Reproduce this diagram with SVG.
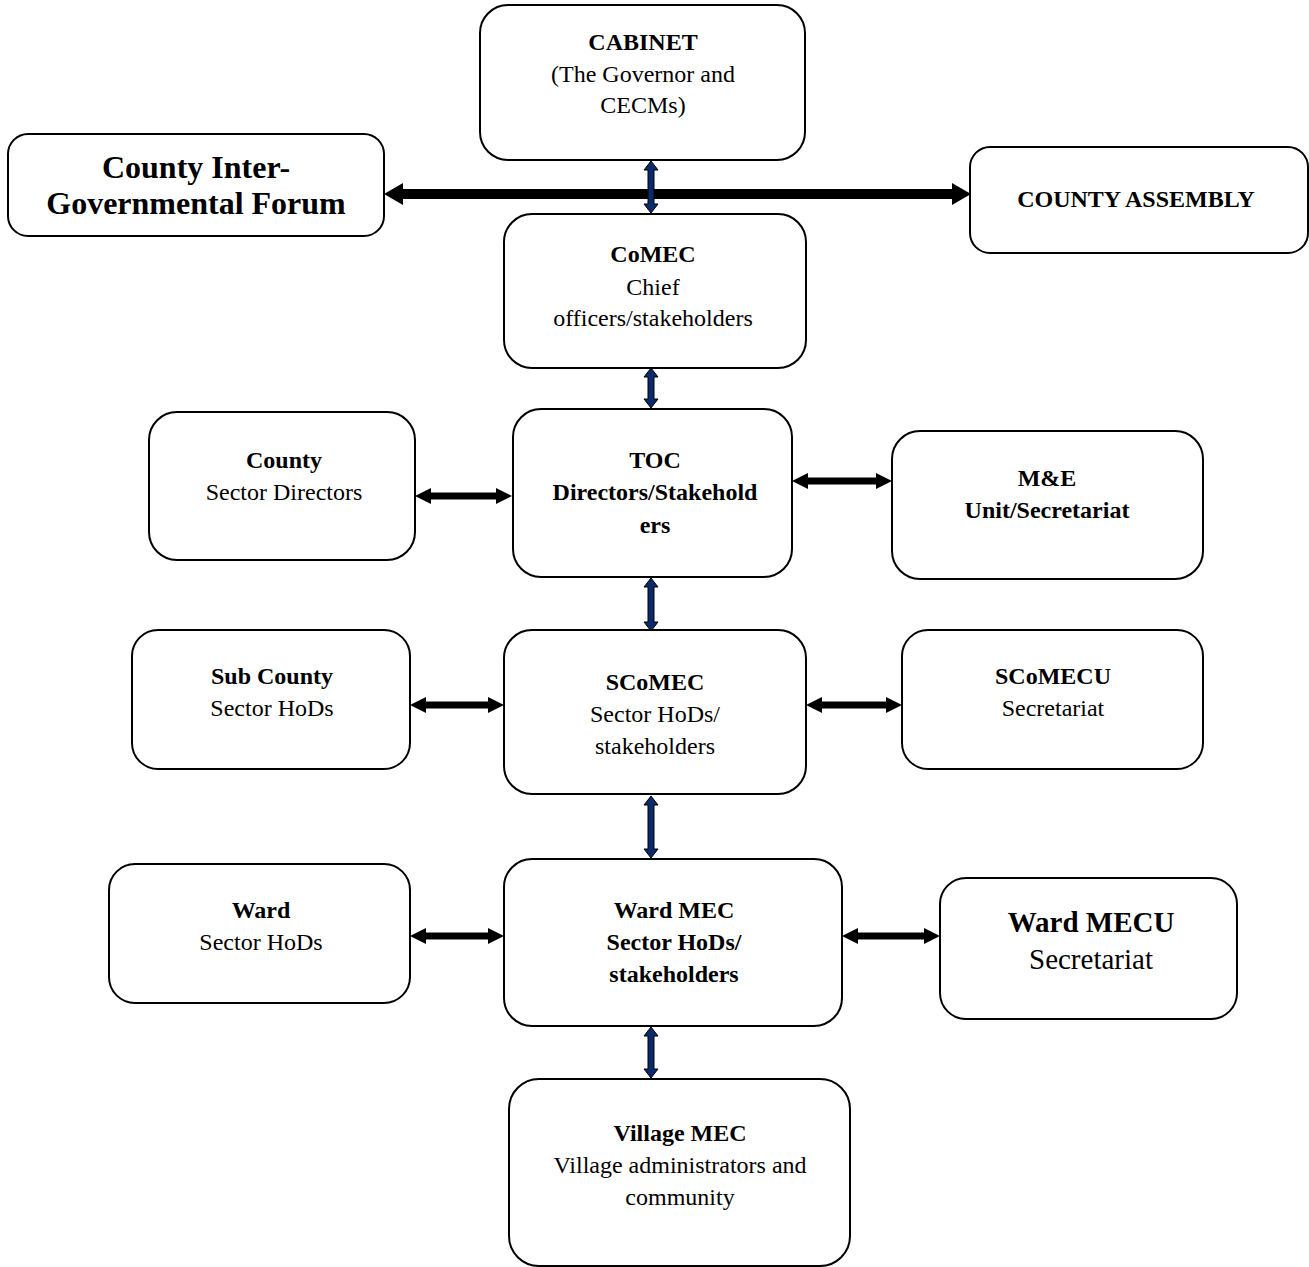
<svg xmlns="http://www.w3.org/2000/svg" width="1309" height="1267" viewBox="0 0 1309 1267">
<style>
.box{fill:#fff;stroke:#000;stroke-width:2}
text{font-family:"Liberation Serif","Times New Roman",serif;font-size:24px;text-anchor:middle;fill:#000}
.b{font-weight:bold}
.big{font-size:32px}
.mid{font-size:29px}
.h{fill:#000}
.v{fill:#0b2a6b;stroke:#000;stroke-width:1}
</style>
<rect width="1309" height="1267" fill="#fff"/>
<g id="connectors">
<polygon class="h" points="384,194 403,183 403,189 952,189 952,183 971,194 952,205 952,199 403,199 403,205"/>
<polygon class="v" points="651,161 658,170 654,170 654,204 658,204 651,213 644,204 648,204 648,170 644,170"/>
<polygon class="v" points="651,368 658,377 654,377 654,399 658,399 651,408 644,399 648,399 648,377 644,377"/>
<polygon class="v" points="651,578 658,587 654,587 654,622 658,622 651,631 644,622 648,622 648,587 644,587"/>
<polygon class="v" points="651,796 658,805 654,805 654,849 658,849 651,858 644,849 648,849 648,805 644,805"/>
<polygon class="v" points="651,1027 658,1036 654,1036 654,1069 658,1069 651,1078 644,1069 648,1069 648,1036 644,1036"/>
<polygon class="h" points="415,496 431,488 431,492.5 496,492.5 496,488 512,496 496,504 496,499.5 431,499.5 431,504"/>
<polygon class="h" points="792,481 808,473 808,477.5 876,477.5 876,473 892,481 876,489 876,484.5 808,484.5 808,489"/>
<polygon class="h" points="410,705 426,697 426,701.5 488,701.5 488,697 504,705 488,713 488,708.5 426,708.5 426,713"/>
<polygon class="h" points="806,705 822,697 822,701.5 886,701.5 886,697 902,705 886,713 886,708.5 822,708.5 822,713"/>
<polygon class="h" points="410,936 426,928 426,932.5 488,932.5 488,928 504,936 488,944 488,939.5 426,939.5 426,944"/>
<polygon class="h" points="842,936 858,928 858,932.5 924,932.5 924,928 940,936 924,944 924,939.5 858,939.5 858,944"/>
</g>
<g id="cabinet"><rect class="box" x="480" y="5" width="325" height="155" rx="28"/>
<text class="b" x="643" y="50">CABINET</text><text x="643" y="82">(The Governor and</text><text x="643" y="113">CECMs)</text></g>
<g id="forum"><rect class="box" x="8" y="134" width="376" height="102" rx="20"/>
<text class="b big" x="196" y="178">County Inter-</text><text class="b big" x="196" y="214">Governmental Forum</text></g>
<g id="assembly"><rect class="box" x="970" y="147" width="338" height="106" rx="20"/>
<text class="b" x="1136" y="207">COUNTY ASSEMBLY</text></g>
<g id="comec"><rect class="box" x="504" y="214" width="302" height="154" rx="28"/>
<text class="b" x="653" y="262">CoMEC</text><text x="653" y="295">Chief</text><text x="653" y="326">officers/stakeholders</text></g>
<g id="county-sector"><rect class="box" x="149" y="412" width="266" height="148" rx="28"/>
<text class="b" x="284" y="468">County</text><text x="284" y="500">Sector Directors</text></g>
<g id="toc"><rect class="box" x="513" y="409" width="279" height="168" rx="28"/>
<text class="b" x="655" y="468">TOC</text><text class="b" x="655" y="500">Directors/Stakehold</text><text class="b" x="655" y="533">ers</text></g>
<g id="me-unit"><rect class="box" x="892" y="431" width="311" height="148" rx="28"/>
<text class="b" x="1047" y="486">M&amp;E</text><text class="b" x="1047" y="518">Unit/Secretariat</text></g>
<g id="subcounty"><rect class="box" x="132" y="630" width="278" height="139" rx="26"/>
<text class="b" x="272" y="684">Sub County</text><text x="272" y="716">Sector HoDs</text></g>
<g id="scomec"><rect class="box" x="504" y="630" width="302" height="164" rx="28"/>
<text class="b" x="655" y="690">SCoMEC</text><text x="655" y="722">Sector HoDs/</text><text x="655" y="754">stakeholders</text></g>
<g id="scomecu"><rect class="box" x="902" y="630" width="301" height="139" rx="26"/>
<text class="b" x="1053" y="684">SCoMECU</text><text x="1053" y="716">Secretariat</text></g>
<g id="ward"><rect class="box" x="109" y="864" width="301" height="139" rx="26"/>
<text class="b" x="261" y="918">Ward</text><text x="261" y="950">Sector HoDs</text></g>
<g id="ward-mec"><rect class="box" x="504" y="859" width="338" height="167" rx="28"/>
<text class="b" x="674" y="918">Ward MEC</text><text class="b" x="674" y="950">Sector HoDs/</text><text class="b" x="674" y="982">stakeholders</text></g>
<g id="ward-mecu"><rect class="box" x="940" y="878" width="297" height="141" rx="26"/>
<text class="b mid" x="1091" y="932">Ward MECU</text><text class="mid" x="1091" y="969">Secretariat</text></g>
<g id="village-mec"><rect class="box" x="509" y="1079" width="341" height="187" rx="30"/>
<text class="b" x="680" y="1141">Village MEC</text><text x="680" y="1173">Village administrators and</text><text x="680" y="1205">community</text></g>
</svg>
